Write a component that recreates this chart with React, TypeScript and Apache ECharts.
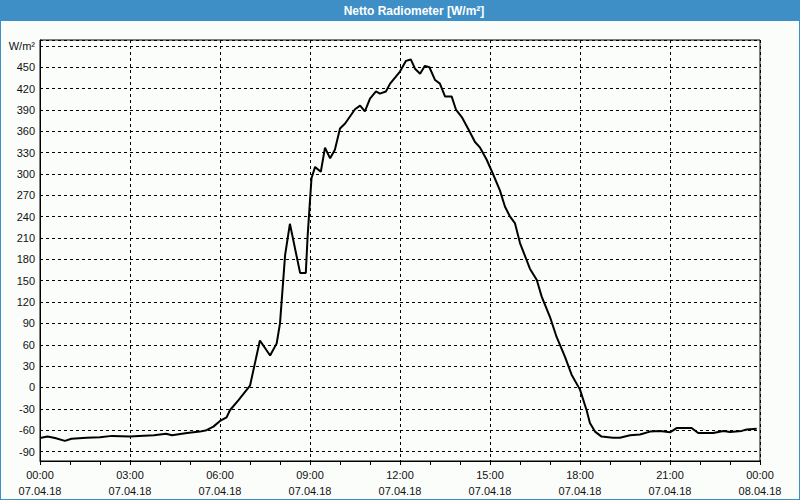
import React, { useEffect, useRef } from 'react';
import * as echarts from 'echarts';

// time of day in hours (07.04.18)
const hours = [
  0, 0.25, 0.5, 0.83, 1.05, 1.55, 2.0, 2.4, 3.0, 3.3, 3.8, 4.2, 4.4, 4.9, 5.33, 5.55, 5.78,
  6.0, 6.22, 6.33, 6.61, 7.0, 7.33, 7.67, 7.89, 8.0, 8.17, 8.33, 8.67, 8.86, 8.92, 9.0,
  9.05, 9.17, 9.36, 9.5, 9.67, 9.83, 10.0, 10.17, 10.5, 10.67, 10.83, 11.0, 11.2, 11.33,
  11.53, 11.67, 12.0, 12.2, 12.36, 12.5, 12.67, 12.83, 12.98, 13.17, 13.33, 13.5, 13.72,
  13.87, 14.06, 14.28, 14.5, 14.67, 14.89, 15.1, 15.33, 15.5, 15.67, 15.83, 16.0, 16.33,
  16.56, 16.72, 17.0, 17.22, 17.5, 17.72, 18.0, 18.22, 18.33, 18.5, 18.72, 19.1, 19.33,
  19.67, 20.0, 20.33, 20.67, 21.0, 21.22, 21.72, 21.94, 22.44, 22.78, 23.0, 23.39, 23.56,
  23.89,
];

// net radiation in W/m²
const radiation = [
  -71, -69, -71, -75, -72, -70.5, -70, -68, -69, -68, -67, -65, -67, -64, -62, -60, -55,
  -47, -42, -32, -18, 2.5, 66, 45, 62, 90, 186, 230, 161, 161, 212, 263,
  294, 310, 303, 337, 322, 334, 364, 371, 391, 396, 388, 406, 416, 413,
  416, 427, 444, 459, 461, 448, 441, 452, 450, 432, 427, 409, 409,
  390, 380, 363, 345, 337, 320, 300, 277, 254, 240, 231, 203, 167,
  151, 128, 99, 71, 43, 18, -3, -32, -50, -62, -69, -70.5, -70.5,
  -67, -66, -62, -61, -63, -57, -57, -64, -64, -61, -62.5, -61, -59,
  -58,
];

const dateLabels = ['07.04.18', '08.04.18'];
const titleText = 'Netto Radiometer [W/m²]';
const unitLabel = 'W/m²';
const unitLabelValue = 480;

export default function App() {
  const ref = useRef<HTMLDivElement>(null);

  useEffect(() => {
    const chart = echarts.init(ref.current!, null, { renderer: 'svg' });
    const font = "'Liberation Sans', Arial, sans-serif";
    chart.setOption({
      animation: false,
      backgroundColor: '#fbfdfb',
      textStyle: { fontFamily: font },
      graphic: [
        {
          type: 'rect',
          shape: { x: 0, y: 0, width: 800, height: 21 },
          style: { fill: '#3d8fc6' },
          silent: true,
        },
        {
          type: 'rect',
          shape: { x: 0, y: 0, width: 800, height: 500 },
          style: { fill: 'none', stroke: '#3d8fc6', lineWidth: 2 },
          silent: true,
        },
        {
          type: 'text',
          x: 414,
          y: 11,
          style: {
            text: titleText,
            fill: '#ffffff',
            font: `bold 12px ${font}`,
            textAlign: 'center',
            textVerticalAlign: 'middle',
          },
          silent: true,
        },
      ],
      grid: {
        left: 40,
        right: 40,
        top: 40,
        bottom: 39,
        show: true,
        borderColor: '#000',
        borderWidth: 1,
        backgroundColor: 'transparent',
      },
      xAxis: {
        type: 'value',
        min: 0,
        max: 24,
        interval: 3,
        axisLine: { show: true, onZero: false, lineStyle: { color: '#000', width: 1 } },
        axisTick: { show: true, length: 4, lineStyle: { color: '#000' } },
        minorTick: { show: true, splitNumber: 3, length: 4, lineStyle: { color: '#000' } },
        splitLine: { show: true, lineStyle: { color: '#000', type: [3, 3], width: 1 } },
        axisLabel: {
          color: '#111',
          fontSize: 11,
          fontFamily: font,
          lineHeight: 16,
          margin: 6,
          showMinLabel: true,
          showMaxLabel: true,
          formatter: (v: number) => {
            const h = Math.round(v);
            const hh = String(h % 24).padStart(2, '0');
            return `${hh}:00\n${h >= 24 ? dateLabels[1] : dateLabels[0]}`;
          },
        },
      },
      yAxis: {
        type: 'value',
        min: -103.3,
        max: 488.3,
        splitNumber: 20,
        axisLine: { show: true, onZero: false, lineStyle: { color: '#000', width: 1 } },
        axisTick: { show: false },
        splitLine: { show: true, lineStyle: { color: '#000', type: [3, 3], width: 1 } },
        axisLabel: {
          color: '#111',
          fontSize: 11,
          fontFamily: font,
          margin: 5,
          formatter: (v: number) => {
            if (Math.abs(v % 30) > 0.001) return '';
            if (Math.round(v) === unitLabelValue) return unitLabel;
            return String(Math.round(v));
          },
        },
      },
      series: [
        {
          type: 'line',
          data: hours.map((h, i) => [h, radiation[i]]),
          showSymbol: false,
          symbol: 'none',
          lineStyle: { color: '#000', width: 2 },
          silent: true,
        },
      ],
    });
    return () => chart.dispose();
  }, []);

  return (
    <div
      ref={ref}
      style={{ position: 'fixed', left: 0, top: 0, width: 800, height: 500 }}
    />
  );
}
